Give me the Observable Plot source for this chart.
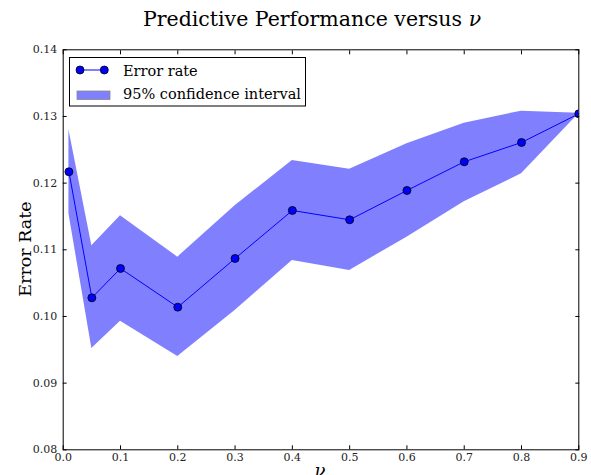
<!DOCTYPE html>
<html><head><meta charset="utf-8">
<script src="https://cdn.jsdelivr.net/npm/d3@7"></script>
<script src="https://cdn.jsdelivr.net/npm/@observablehq/plot@0.6"></script>
<style>body{margin:0;background:#fff} svg{display:block}</style>
</head><body><div id="chart"></div>
<script>
const nu        = [0.01, 0.05, 0.1, 0.2, 0.3, 0.4, 0.5, 0.6, 0.7, 0.8, 0.9];
const errorRate = [0.1217, 0.1028, 0.1072, 0.1014, 0.1087, 0.1159, 0.1145, 0.1189, 0.1232, 0.1261, 0.1304];
const ciLow     = [0.1154, 0.0952, 0.0993, 0.0940, 0.1009, 0.1084, 0.1069, 0.1119, 0.1172, 0.1214, 0.1304];
const ciHigh    = [0.1280, 0.1106, 0.1151, 0.1089, 0.1166, 0.1234, 0.1221, 0.1259, 0.1290, 0.1308, 0.1305];
const xTicks = [0, 0.1, 0.2, 0.3, 0.4, 0.5, 0.6, 0.7, 0.8, 0.9];
const xTickLabels = ["0.0","0.1","0.2","0.3","0.4","0.5","0.6","0.7","0.8","0.9"];
const yTicks = [0.08, 0.09, 0.10, 0.11, 0.12, 0.13, 0.14];
const yTickLabels = ["0.08","0.09","0.10","0.11","0.12","0.13","0.14"];
const titleText = "Predictive Performance versus ";
const titleSymbol = "ν";
const yLabel = "Error Rate";
const xLabel = "ν";
const legendLabels = ["Error rate", "95% confidence interval"];

const data = nu.map((v, i) => ({nu: v, err: errorRate[i], lo: ciLow[i], hi: ciHigh[i]}));
const FONT = "'DejaVu Serif', serif";
const xFmt = d => xTickLabels[xTicks.findIndex(t => Math.abs(t - d) < 1e-9)];
const yFmt = d => yTickLabels[yTicks.findIndex(t => Math.abs(t - d) < 1e-9)];

const chart = Plot.plot({
  width: 591, height: 475,
  marginLeft: 62.7, marginRight: 12.7, marginTop: 49.3, marginBottom: 25.7,
  style: {fontFamily: FONT, fontSize: "11px", background: "white", color: "black", overflow: "visible"},
  x: {domain: [0, 0.9]},
  y: {domain: [0.08, 0.14]},
  marks: [
    Plot.areaY(data, {x: "nu", y1: "lo", y2: "hi", fill: "#8080ff"}),
    Plot.line(data, {x: "nu", y: "err", stroke: "#0000ff", strokeWidth: 1}),
    Plot.dot(data, {x: "nu", y: "err", r: 4, fill: "#0000ff", stroke: "black", strokeWidth: 0.8, clip: true}),
    Plot.frame({stroke: "black", strokeWidth: 1}),
    Plot.axisX(xTicks, {anchor: "bottom", tickSize: -4, tickPadding: 7.5, tickFormat: xFmt, label: null, fill: "#222"}),
    Plot.axisX(xTicks, {anchor: "top", tickSize: -4, tickFormat: () => "", label: null}),
    Plot.axisY(yTicks, {anchor: "left", tickSize: -4, tickPadding: 10, tickFormat: yFmt, label: null, fill: "#222"}),
    Plot.axisY(yTicks, {anchor: "right", tickSize: -4, tickFormat: () => "", label: null})
  ]
});
document.getElementById("chart").appendChild(chart);

const svg = d3.select(chart);
const t = svg.append("text").attr("x", 312).attr("y", 26).attr("text-anchor", "middle")
  .attr("font-family", FONT).attr("font-size", 20.5).attr("fill", "black");
t.append("tspan").text(titleText);
t.append("tspan").attr("font-style", "italic").text(titleSymbol);

svg.append("text").attr("transform", "translate(31,249) rotate(-90)").attr("text-anchor", "middle")
  .attr("font-family", FONT).attr("font-size", 17.5).attr("fill", "black").text(yLabel);
svg.append("text").attr("x", 320).attr("y", 477).attr("text-anchor", "middle")
  .attr("font-family", FONT).attr("font-style", "italic").attr("font-size", 18).attr("fill", "black").text(xLabel);

const lg = svg.append("g").attr("font-family", FONT).attr("font-size", 14.5).attr("fill", "black")
  .attr("text-anchor", "start");
lg.append("rect").attr("x", 69.5).attr("y", 57.5).attr("width", 236).attr("height", 48.5)
  .attr("fill", "white").attr("stroke", "black").attr("stroke-width", 1);
lg.append("line").attr("x1", 80).attr("x2", 104.3).attr("y1", 70).attr("y2", 70)
  .attr("stroke", "#0000ff").attr("stroke-width", 1);
[80, 104.3].forEach(cx => lg.append("circle").attr("cx", cx).attr("cy", 70).attr("r", 4)
  .attr("fill", "#0000ff").attr("stroke", "black").attr("stroke-width", 0.8));
lg.append("text").attr("x", 123).attr("y", 75.5).attr("text-anchor", "start").text(legendLabels[0]);
lg.append("rect").attr("x", 77).attr("y", 91).attr("width", 33).attr("height", 8.5)
  .attr("fill", "#8080ff").attr("stroke", "#888").attr("stroke-width", 0.8);
lg.append("text").attr("x", 123).attr("y", 98.5).attr("text-anchor", "start").text(legendLabels[1]);
</script></body></html>
